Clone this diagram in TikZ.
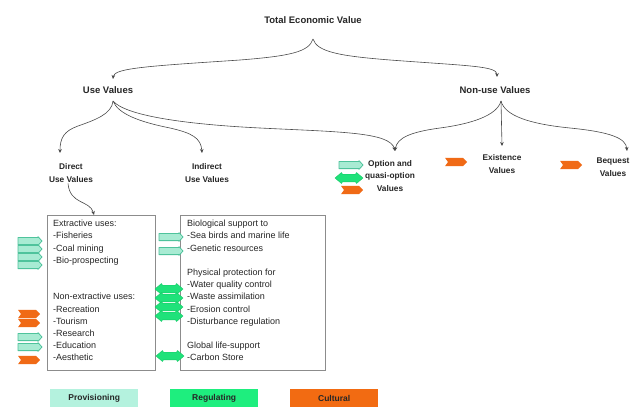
\documentclass[tikz,border=0pt]{standalone}
\usepackage{fontspec}
\setmainfont{Liberation Sans}
\usetikzlibrary{arrows.meta}

\definecolor{txt}{HTML}{262626}
\definecolor{wire}{HTML}{4A4A4A}
\definecolor{frame}{HTML}{8C8C8C}
\definecolor{provfill}{HTML}{A8EBD3}
\definecolor{provline}{HTML}{4FC39C}
\definecolor{regfill}{HTML}{1FE27A}
\definecolor{regline}{HTML}{16C866}
\definecolor{cultfill}{HTML}{F06A16}
\definecolor{legprov}{HTML}{B4F2DE}
\definecolor{legreg}{HTML}{1EEE7E}
\definecolor{legcult}{HTML}{F26B12}

\tikzset{
  conn/.style={draw=wire, line width=0.6pt, -{Stealth[length=4pt,width=3.6pt]}},
  toplabel/.style={font=\fontsize{9.5}{11}\selectfont\bfseries, text=txt, inner sep=1pt},
  sublabel/.style={font=\fontsize{8.3}{12.5}\selectfont\bfseries, text=txt, align=center, inner sep=1pt},
  boxframe/.style={draw=frame, line width=0.7pt, anchor=north west, inner sep=0pt},
  boxtext/.style={font=\fontsize{9}{12.2}\selectfont, text=txt, align=left, anchor=north west, inner sep=0pt},
  legendbox/.style={minimum width=88pt, minimum height=18pt, anchor=north west,
    font=\fontsize{8.5}{10}\selectfont\bfseries, text=txt, inner sep=0pt},
  % service markers: provisioning block arrow, regulating double arrow, cultural chevron
  prov/.pic={\draw[draw=provline, fill=provfill, line width=0.8pt, line join=round]
      (-12,-3.6) -- (8,-3.6) -- (8,-4.4) -- (12,0) -- (8,4.4) -- (8,3.6) -- (-12,3.6) -- cycle;},
  reg/.pic={\draw[draw=regline, fill=regfill, line width=0.4pt, line join=round]
      (-14,0) -- (-7.5,-5.5) -- (-6.5,-3.8) -- (6.5,-3.8) -- (7.5,-5.5) -- (14,0)
      -- (7.5,5.5) -- (6.5,3.8) -- (-6.5,3.8) -- (-7.5,5.5) -- cycle;},
  cult/.pic={\fill[cultfill, line join=round]
      (-11,-4.2) -- (7,-4.2) -- (11,0) -- (7,4.2) -- (-11,4.2) -- (-8,0) -- cycle;},
}

\begin{document}
\begin{tikzpicture}[x=1pt,y=-1pt]
\useasboundingbox (0,0) rectangle (637,408);
\fill[white] (0,0) rectangle (637,408);

% value hierarchy labels
\node[toplabel] (tev) at (313,20) {Total Economic Value};
\node[toplabel] (use) at (108,90) {Use Values};
\node[toplabel] (nonuse) at (495,90) {Non-use Values};
\node[sublabel] (direct) at (71,173) {Direct\\Use Values};
\node[sublabel] (indirect) at (207,173) {Indirect\\Use Values};
\node[sublabel] (option) at (390,176) {Option and\\quasi-option\\Values};
\node[sublabel] (exist) at (502,164) {Existence\\Values};
\node[sublabel] (bequest) at (613,167) {Bequest\\Values};

% branch points and arrow ends
\coordinate (tevroot) at (313,39);
\coordinate (usetip) at (113,79);
\coordinate (nutip) at (497,77);
\coordinate (useroot) at (113,101);
\coordinate (nuroot) at (501,101);
\coordinate (directtip) at (60,153);
\coordinate (indirecttip) at (202,153);
\coordinate (opttip) at (395,151);
\coordinate (existtip) at (502,146);
\coordinate (beqtip) at (627,151);

% braces
\draw[conn] (tevroot) .. controls (309,52) and (290,56) .. (240,60)
  .. controls (150,66) and (114,68) .. (usetip);
\draw[conn] (tevroot) .. controls (317,52) and (340,56) .. (390,60)
  .. controls (470,66) and (497,66) .. (nutip);

\draw[conn] (useroot) .. controls (112,114) and (95,120) .. (78,126)
  .. controls (64,131) and (60,138) .. (directtip);
\draw[conn] (useroot) .. controls (118,114) and (140,122) .. (170,128)
  .. controls (192,133) and (201,138) .. (indirecttip);
\draw[conn] (useroot) .. controls (125,115) and (180,124) .. (260,128)
  .. controls (340,132) and (390,132) .. (opttip);

\draw[conn] (nuroot) .. controls (497,116) and (470,124) .. (440,128)
  .. controls (410,132) and (397,138) .. (opttip);
\draw[conn] (nuroot) -- (existtip);
\draw[conn] (nuroot) .. controls (505,116) and (530,124) .. (570,128)
  .. controls (610,132) and (626,138) .. (beqtip);

% boxes of uses
\node[boxframe, minimum width=108pt, minimum height=155pt] (lbox) at (47,215) {};
\node[boxframe, minimum width=145pt, minimum height=155pt] (rbox) at (180,215) {};

\draw[conn] ([xshift=-3pt]direct.south) .. controls (70,205) and (90,200) .. ([xshift=47pt]lbox.north west);

\node[boxtext] (ltext) at (53,220) {Extractive uses:\\-Fisheries\\-Coal mining\\-Bio-prospecting\\[24.4pt]
  Non-extractive uses:\\-Recreation\\-Tourism\\-Research\\-Education\\-Aesthetic};
\node[boxtext] (rtext) at (187,220) {Biological support to\\-Sea birds and marine life\\-Genetic resources\\[12.2pt]
  Physical protection for\\-Water quality control\\-Waste assimilation\\-Erosion control\\-Disturbance regulation\\[12.2pt]
  Global life-support\\-Carbon Store};

% service markers beside the direct uses
\pic (pa1) at (30,241) {prov};
\pic (pa2) at (30,249) {prov};
\pic (pa3) at (30,257) {prov};
\pic (pa4) at (30,265) {prov};
\pic (ca1) at (29,314) {cult};
\pic (ca2) at (29,323) {cult};
\pic (pa5) at (30,337) {prov};
\pic (pa6) at (30,347) {prov};
\pic (ca3) at (29,360) {cult};

% service markers beside the indirect uses
\pic (pb1) at (171,237) {prov};
\pic (pb2) at (171,251) {prov};
\pic (rb1) at (169,289) {reg};
\pic (rb2) at (169,298) {reg};
\pic (rb3) at (169,307) {reg};
\pic (rb4) at (169,316) {reg};
\pic (rb5) at (170,356) {reg};

% service markers of the option and non-use values
\pic (pc1) at (351,165) {prov};
\pic (rc1) at (349,178) {reg};
\pic (cc1) at (352,190) {cult};
\pic (cc2) at (456,162) {cult};
\pic (cc3) at (571,165) {cult};

% legend
\node[legendbox, fill=legprov] (legp) at (50,389) {Provisioning};
\node[legendbox, fill=legreg] (legr) at (170,389) {Regulating};
\node[legendbox, fill=legcult] (legc) at (290,389) {Cultural};
\end{tikzpicture}
\end{document}
